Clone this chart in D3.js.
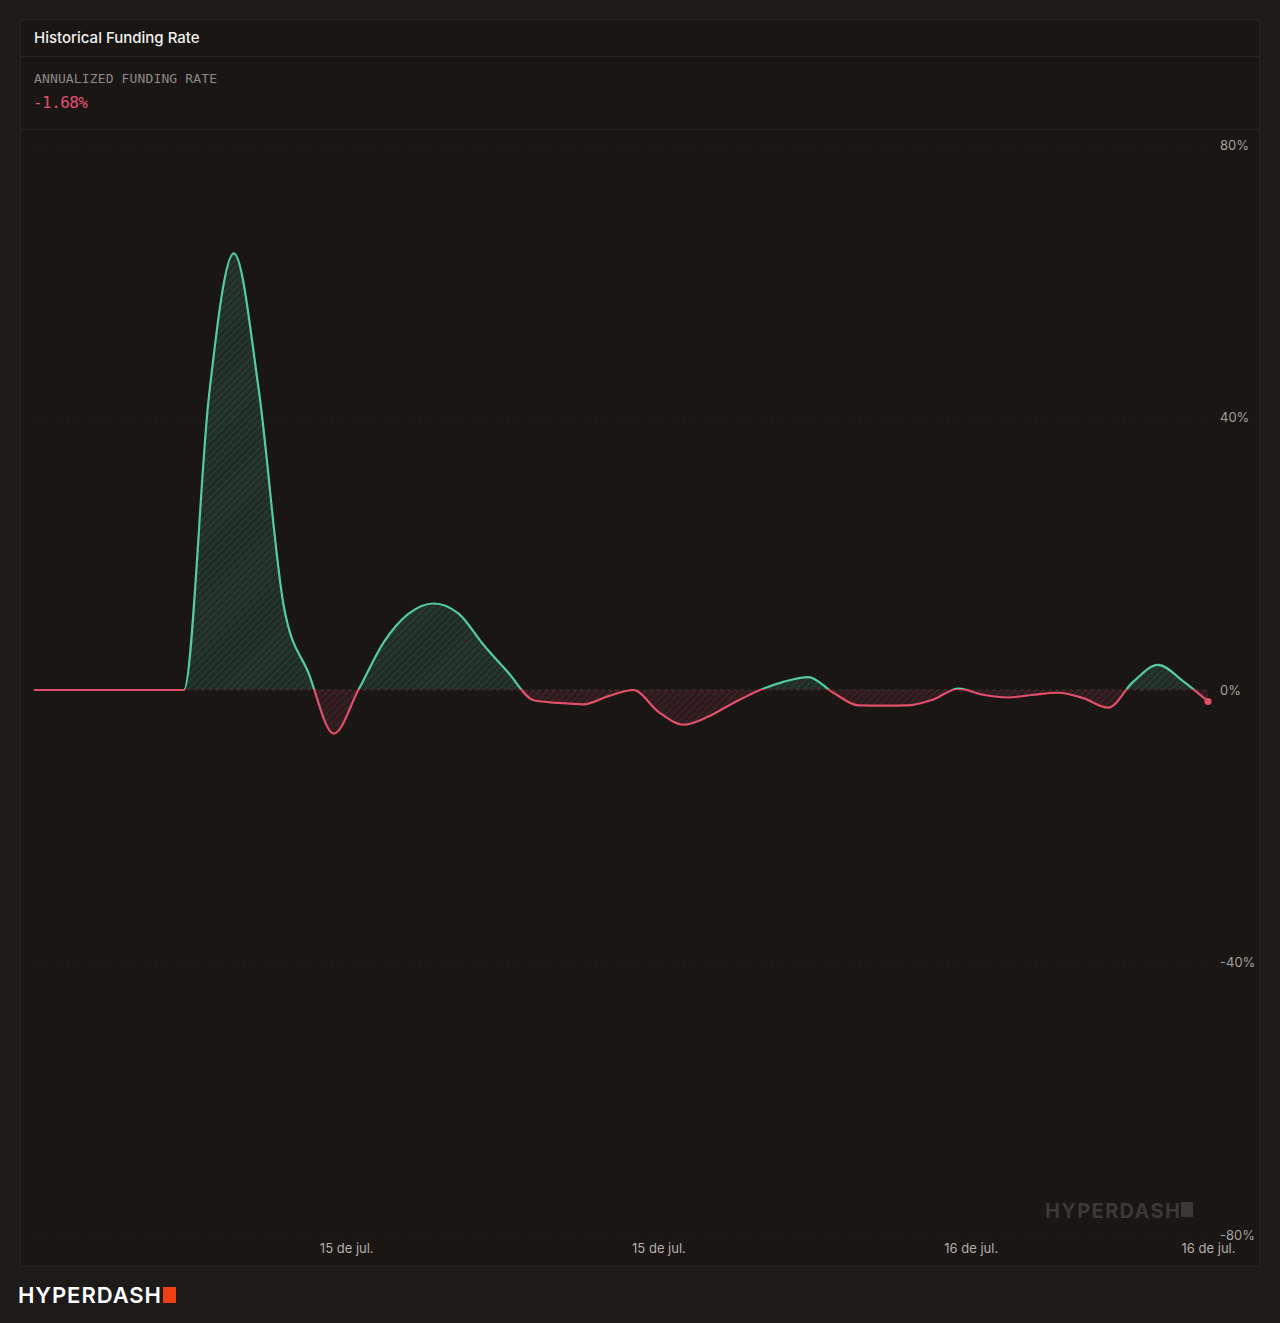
<!DOCTYPE html>
<html>
<head>
<meta charset="utf-8">
<script src="https://cdn.jsdelivr.net/npm/d3@7"></script>
<style>
  html, body { margin: 0; padding: 0; background: #1c1b1a; }
  svg { display: block; }
</style>
</head>
<body>
<svg id="chart"></svg>
<script>
// hourly annualized funding rate (%), 14 jul 12:00 -> 16 jul 11:00
const rates = [0, 0, 0, 0, 0, 0, 0, 43, 64.1, 44, 12.3, 2.4, -6.4, 0.1, 7, 11.2,
  12.7, 11.2, 6.6, 2.5, -1.5, -1.9, -2.1, -0.9, 0, -3.2, -5.1, -3.9, -1.9, -0.1,
  1.2, 1.9, -0.4, -2.25, -2.3, -2.25, -1.4, 0.2, -0.7, -1.1, -0.7, -0.4, -1.2,
  -2.6, 1.2, 3.7, 1.3, -1.68]
const hourIndex = rates.map((d, i) => i)
const xTickValues = [12.5, 25, 37.5, 47]
const xTickLabels = ['15 de jul.', '15 de jul.', '16 de jul.', '16 de jul.']
const yTickValues = [-80, -40, 0, 40, 80]
const currentRate = '-1.68%'

const GREEN = '#55cba0'
const RED = '#e0506b'

const width = 1280
const height = 1323
const plot = { left: 34, right: 1208, top: 145, bottom: 1235 }

const svg = d3.select('#chart').attr('width', width).attr('height', height)

// card
svg.append('rect')
  .attr('x', 20.5).attr('y', 19.5).attr('width', 1239).attr('height', 1247)
  .attr('fill', '#191614').attr('stroke', '#272523')
svg.append('line')
  .attr('x1', 21).attr('x2', 1259).attr('y1', 56.5).attr('y2', 56.5)
  .attr('stroke', '#272523')
svg.append('line')
  .attr('x1', 21).attr('x2', 1259).attr('y1', 129.5).attr('y2', 129.5)
  .attr('stroke', '#272523')

svg.append('text')
  .attr('x', 34).attr('y', 43)
  .style('font', '500 15px Inter, sans-serif')
  .attr('fill', '#f2f0ee')
  .text('Historical Funding Rate')

svg.append('text')
  .attr('x', 34).attr('y', 83)
  .style('font', '13px "DejaVu Sans Mono", monospace')
  .attr('fill', '#8c8986')
  .attr('textLength', 183)
  .text('ANNUALIZED FUNDING RATE')

svg.append('text')
  .attr('x', 33).attr('y', 108)
  .style('font', '16px "DejaVu Sans Mono", monospace')
  .attr('fill', RED)
  .attr('textLength', 55)
  .text(currentRate)

// scales
const x = d3.scaleLinear().domain([0, rates.length - 1]).range([plot.left, plot.right])
const y = d3.scaleLinear().domain([-80, 80]).range([plot.bottom, plot.top])
const y0 = y(0)

// hatch patterns
const defs = svg.append('defs')
const makeHatch = (id, color, bg) => {
  const p = defs.append('pattern')
    .attr('id', id)
    .attr('patternUnits', 'userSpaceOnUse')
    .attr('width', 5).attr('height', 5)
    .attr('patternTransform', 'rotate(45)')
  p.append('rect').attr('width', 5).attr('height', 5).attr('fill', bg)
  p.append('line')
    .attr('x1', 0).attr('y1', 0).attr('x2', 0).attr('y2', 5)
    .attr('stroke', color).attr('stroke-width', 1.6)
}
makeHatch('hatchGreen', 'rgba(85,203,160,0.16)', 'rgba(85,203,160,0.13)')
makeHatch('hatchRed', 'rgba(224,80,107,0.16)', 'rgba(224,80,107,0.10)')

defs.append('clipPath').attr('id', 'clipAbove')
  .append('rect').attr('x', 0).attr('y', 0).attr('width', width).attr('height', y0 - 1)
defs.append('clipPath').attr('id', 'clipBelow')
  .append('rect').attr('x', 0).attr('y', y0 - 1).attr('width', width).attr('height', height)

// grid
svg.append('g').selectAll('line').data(yTickValues).enter()
  .append('line')
  .attr('x1', plot.left).attr('x2', plot.right)
  .attr('y1', (d) => y(d)).attr('y2', (d) => y(d))
  .attr('stroke', (d) => d === 0 ? '#34312f' : '#2a2826')
  .attr('stroke-width', 1)
  .attr('stroke-dasharray', (d) => d === 0 ? '3 4' : '1.5 9.5')

// y axis
const axisY = d3.axisRight(y)
  .tickValues(yTickValues)
  .tickSize(0)
  .tickPadding(8)
  .tickFormat((d) => d + '%')
svg.append('g')
  .attr('transform', `translate(${plot.right + 4},0)`)
  .call(axisY)
  .call((g) => g.select('.domain').remove())
  .selectAll('text')
  .style('font', '13px Inter, sans-serif')
  .attr('fill', '#a3a09c')

// x axis
const axisX = d3.axisBottom(x)
  .tickValues(xTickValues)
  .tickSize(0)
  .tickPadding(9)
  .tickFormat((d, i) => xTickLabels[i])
svg.append('g')
  .attr('transform', `translate(0,${plot.bottom})`)
  .call(axisX)
  .call((g) => g.select('.domain').remove())
  .selectAll('text')
  .style('font', '13px Inter, sans-serif')
  .attr('fill', '#b3b0ac')

// watermark
const wm = svg.append('g').attr('fill', '#3b3937')
wm.append('text')
  .attr('x', 1045).attr('y', 1218)
  .style('font', '700 20px Inter, sans-serif')
  .attr('textLength', 135)
  .text('HYPERDASH')
wm.append('rect')
  .attr('x', 1181).attr('y', 1202).attr('width', 12).attr('height', 15)

// areas and line
const area = d3.area()
  .x((d, i) => x(hourIndex[i]))
  .y0(y0)
  .y1((d) => y(d))
  .curve(d3.curveMonotoneX)

const line = d3.line()
  .x((d, i) => x(hourIndex[i]))
  .y((d) => y(d))
  .curve(d3.curveMonotoneX)

svg.append('path').datum(rates)
  .attr('d', area)
  .attr('fill', 'url(#hatchGreen)')
  .attr('clip-path', 'url(#clipAbove)')

svg.append('path').datum(rates)
  .attr('d', area)
  .attr('fill', 'url(#hatchRed)')
  .attr('clip-path', 'url(#clipBelow)')

svg.append('path').datum(rates)
  .attr('d', line)
  .attr('fill', 'none')
  .attr('stroke', GREEN)
  .attr('stroke-width', 2.2)
  .attr('clip-path', 'url(#clipAbove)')

svg.append('path').datum(rates)
  .attr('d', line)
  .attr('fill', 'none')
  .attr('stroke', RED)
  .attr('stroke-width', 2.2)
  .attr('clip-path', 'url(#clipBelow)')

const last = rates.length - 1
svg.append('circle')
  .attr('cx', x(hourIndex[last]))
  .attr('cy', y(rates[last]))
  .attr('r', 3.5)
  .attr('fill', RED)

// footer logo
svg.append('text')
  .attr('x', 18).attr('y', 1303)
  .style('font', '600 22px Inter, sans-serif')
  .attr('fill', '#ffffff')
  .attr('textLength', 143)
  .text('HYPERDASH')
svg.append('rect')
  .attr('x', 163).attr('y', 1287).attr('width', 13).attr('height', 16)
  .attr('fill', '#ee4113')
</script>
</body>
</html>
